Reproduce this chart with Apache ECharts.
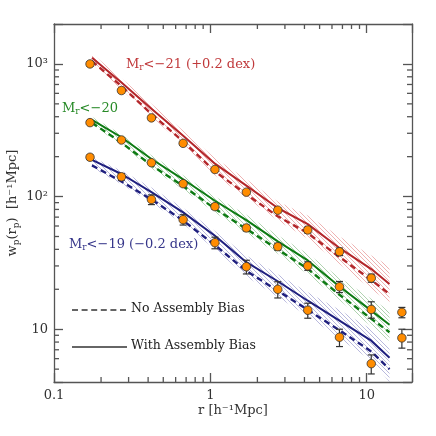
<!DOCTYPE html>
<html>
<head>
<meta charset="utf-8">
<script src="https://cdn.jsdelivr.net/npm/echarts@6/dist/echarts.min.js"></script>
<style>
  html, body { margin: 0; padding: 0; background: #fff; }
  #chart { width: 436px; height: 436px; }
</style>
</head>
<body>
<div id="chart"></div>
<script>
// measured w_p(r_p) points (offset samples already shifted by +/-0.2 dex)
const rp = [0.17, 0.27, 0.42, 0.67, 1.07, 1.7, 2.7, 4.2, 6.7, 10.7, 16.8];
const obs21 = [1000, 630, 392, 252, 160, 108, 79, 56, 38.4, 24.3, 13.4];
const err21 = [40, 25, 14, 9, 6, 4, 3, 3, 2.5, 1.7, 1.2];
const obs20 = [361, 267, 180, 125, 84, 58, 41.9, 30, 20.9, 14.1, 8.6];
const err20 = [10, 8, 6, 5, 4, 3, 2.5, 2.2, 2, 2, 1.4];
const obs19 = [198, 141, 95, 67, 44.9, 29.6, 20, 13.9, 8.7, 5.5];
const err19 = [8, 8, 8, 6, 4.5, 3.5, 2.8, 1.8, 1.3, 0.9];

// model curves
const rModel = [0.175, 0.27, 0.42, 0.67, 1.07, 1.7, 2.7, 4.2, 6.7, 10.7, 14];
const with21 = [1115, 724, 460, 288, 177, 121, 82, 62, 41, 28.4, 21.9];
const no21 = [1050, 680, 420, 260, 155, 104, 71, 53, 35, 23.5, 18.4];
const lo21 = [1000, 640, 400, 245, 145, 98, 66, 48, 31, 20, 16];
const hi21 = [1200, 780, 500, 315, 195, 135, 92, 72, 50, 36, 30];

const with20 = [378, 280, 192, 135, 93, 66.5, 46, 33, 21, 13.8, 10.8];
const no20 = [360, 255, 172, 120, 81, 57, 40, 28.5, 18.2, 12, 9.5];
const lo20 = [350, 245, 163, 113, 76, 53, 37, 26, 16.5, 10.5, 8.1];
const hi20 = [400, 295, 205, 145, 100, 73, 51, 37, 24.5, 17, 13.8];

const with19 = [189, 148, 108, 76, 50.7, 32, 23, 16.4, 11.6, 8.2, 6.1];
const no19 = [172, 130, 95, 66, 43, 27.5, 19.5, 14, 9.8, 6.8, 5.0];
const lo19 = [165, 124, 90, 62, 40, 25, 17.5, 12.5, 8.5, 5.8, 4.0];
const hi19 = [198, 157, 117, 82, 55, 36, 26, 19, 14, 10, 7.3];

const xMinorTicks = [0.2, 0.3, 0.4, 0.5, 0.6, 0.7, 0.8, 0.9, 2, 3, 4, 5, 6, 7, 8, 9];
const yMinorTicks = [5, 6, 7, 8, 9, 20, 30, 40, 50, 60, 70, 80, 90, 200, 300, 400, 500, 600, 700, 800, 900];

const X_MIN = 0.1, X_MAX = 19.5, Y_MIN = 4, Y_MAX = 2000;
const FONT = '"DejaVu Serif", serif';
const RED = '#b3262a', GREEN = '#0c7a12', BLUE = '#1f1f7e';
const AXIS = '#555';

const zip = (a, b) => a.map((v, i) => [v, b[i]]);

// fine 45 degree hatching (down-right) used for the model bands
function hatch(color) {
  const c = document.createElement('canvas');
  c.width = 4; c.height = 4;
  const g = c.getContext('2d');
  g.strokeStyle = color;
  g.lineWidth = 0.7;
  g.beginPath();
  for (let k = -1; k <= 1; k++) {
    g.moveTo(-4 + 4 * k, -4); g.lineTo(8 + 4 * k, 8);
  }
  g.stroke();
  return { image: c, repeat: 'repeat' };
}

function band(lo, hi, color) {
  return {
    type: 'custom',
    z: 1,
    silent: true,
    data: rModel.map((x, i) => [x, lo[i], hi[i]]),
    renderItem: function (params, api) {
      if (params.dataIndex !== 0) return;
      const pts = [];
      rModel.forEach((x, i) => pts.push(api.coord([x, hi[i]])));
      for (let i = rModel.length - 1; i >= 0; i--) pts.push(api.coord([rModel[i], lo[i]]));
      return { type: 'polygon', shape: { points: pts }, style: { fill: hatch(color) } };
    }
  };
}

function curve(ys, color, dashed) {
  return {
    type: 'line', z: 3, symbol: 'none', silent: true,
    data: zip(rModel, ys),
    lineStyle: { color: color, width: dashed ? 2.4 : 2, type: dashed ? [6, 4] : 'solid' }
  };
}

function errorBars(ys, errs) {
  return {
    type: 'custom', z: 4, silent: true,
    data: ys.map((y, i) => [rp[i], y, errs[i]]),
    renderItem: function (params, api) {
      const x = api.value(0), y = api.value(1), e = api.value(2);
      const lo = api.coord([x, y - e]), hi = api.coord([x, y + e]);
      const st = { stroke: '#333', lineWidth: 1.2 };
      return {
        type: 'group', children: [
          { type: 'line', shape: { x1: lo[0], y1: lo[1], x2: hi[0], y2: hi[1] }, style: st },
          { type: 'line', shape: { x1: lo[0] - 3.5, y1: lo[1], x2: lo[0] + 3.5, y2: lo[1] }, style: st },
          { type: 'line', shape: { x1: hi[0] - 3.5, y1: hi[1], x2: hi[0] + 3.5, y2: hi[1] }, style: st }
        ]
      };
    }
  };
}

function points(ys) {
  return {
    type: 'scatter', z: 5, silent: true,
    data: zip(rp, ys),
    symbolSize: 8.5,
    itemStyle: { color: '#ff8c00', borderColor: '#333', borderWidth: 0.8, opacity: 1 }
  };
}

// minor log ticks on all four sides, drawn as thin rect symbols
function tickMarks(data, size, offset) {
  return {
    type: 'scatter', z: 6, silent: true, clip: false,
    data: data, symbol: 'rect', symbolSize: size, symbolOffset: offset,
    itemStyle: { color: AXIS, opacity: 1 }
  };
}

const axisCommon = {
  type: 'log', logBase: 10,
  axisLine: { show: true, onZero: false, lineStyle: { color: AXIS, width: 1.3 } },
  axisTick: { show: true, inside: true, length: 9, lineStyle: { color: AXIS, width: 1.3 } },
  splitLine: { show: false },
  minorTick: { show: false }
};

const xLab = v => (Math.abs(v - 0.1) < 1e-9 ? '0.1' : Math.abs(v - 1) < 1e-9 ? '1' : Math.abs(v - 10) < 1e-9 ? '10' : '');
const yLab = v => (Math.abs(v - 10) < 1e-6 ? '10' : Math.abs(v - 100) < 1e-6 ? '10²' : Math.abs(v - 1000) < 1e-6 ? '10³' : '');

const labelStyle = { color: '#333', fontFamily: FONT, fontSize: 13 };
const subRich = {
  n: { fontFamily: FONT, fontSize: 13, lineHeight: 16 },
  s: { fontFamily: FONT, fontSize: 9, lineHeight: 9, verticalAlign: 'bottom' }
};

function annotation(left, top, text, color) {
  const rich = {
    n: { fontFamily: FONT, fontSize: 13, lineHeight: 16, fill: color },
    s: { fontFamily: FONT, fontSize: 9, lineHeight: 9, verticalAlign: 'bottom', fill: color }
  };
  return { type: 'text', left: left, top: top, z: 10, style: { text: text, rich: rich, fill: color } };
}

const option = {
  animation: false,
  backgroundColor: '#fff',
  grid: { left: 54, top: 24, right: 24, bottom: 54, containLabel: false, outerBoundsMode: 'none' },
  xAxis: [
    Object.assign({}, axisCommon, {
      min: X_MIN, max: X_MAX, position: 'bottom',
      name: 'r [h⁻¹Mpc]', nameLocation: 'middle', nameGap: 22, nameMoveOverlap: false,
      nameTextStyle: { color: '#333', fontFamily: FONT, fontSize: 13 },
      axisLabel: Object.assign({ margin: 7, formatter: xLab, showMinLabel: true, showMaxLabel: true }, labelStyle)
    }),
    Object.assign({}, axisCommon, { min: X_MIN, max: X_MAX, position: 'top', axisLabel: { show: false } })
  ],
  yAxis: [
    Object.assign({}, axisCommon, {
      min: Y_MIN, max: Y_MAX, position: 'left',
      name: '{n|w}{s|p}{n|(r}{s|p}{n|)  [h⁻¹Mpc]}', nameLocation: 'middle', nameGap: 33, nameRotate: 90,
      nameMoveOverlap: false,
      nameTextStyle: { color: '#333', fontFamily: FONT, fontSize: 13, rich: subRich },
      axisLabel: Object.assign({ margin: 6, formatter: yLab }, labelStyle)
    }),
    Object.assign({}, axisCommon, { min: Y_MIN, max: Y_MAX, position: 'right', axisLabel: { show: false } })
  ],
  graphic: [
    annotation(126, 58, '{n|M}{s|r}{n|<−21 (+0.2 dex)}', '#c0393b'),
    annotation(62, 102, '{n|M}{s|r}{n|<−20}', '#278a27'),
    annotation(69, 238, '{n|M}{s|r}{n|<−19 (−0.2 dex)}', '#36368a'),
    { type: 'line', z: 10, shape: { x1: 72, y1: 310, x2: 127, y2: 310 }, style: { stroke: '#333', lineWidth: 1.3, lineDash: [6, 3.6] } },
    { type: 'line', z: 10, shape: { x1: 72, y1: 347, x2: 127, y2: 347 }, style: { stroke: '#333', lineWidth: 1.3 } },
    { type: 'text', z: 10, left: 131, top: 302, style: { text: 'No Assembly Bias', fill: '#222', font: '12.5px ' + FONT } },
    { type: 'text', z: 10, left: 131, top: 339, style: { text: 'With Assembly Bias', fill: '#222', font: '12.5px ' + FONT } }
  ],
  series: [
    band(lo21, hi21, 'rgba(215,70,70,0.6)'),
    band(lo20, hi20, 'rgba(50,140,50,0.55)'),
    band(lo19, hi19, 'rgba(70,70,165,0.55)'),
    curve(no21, RED, true), curve(with21, RED, false),
    curve(no20, GREEN, true), curve(with20, GREEN, false),
    curve(no19, BLUE, true), curve(with19, BLUE, false),
    errorBars(obs21, err21), errorBars(obs20, err20), errorBars(obs19, err19),
    points(obs21), points(obs20), points(obs19),
    tickMarks(xMinorTicks.map(v => [v, Y_MIN]), [1.3, 5], [0, -2.5]),
    tickMarks(xMinorTicks.map(v => [v, Y_MAX]), [1.3, 5], [0, 2.5]),
    tickMarks(yMinorTicks.map(v => [X_MIN, v]), [5, 1.3], [2.5, 0]),
    tickMarks(yMinorTicks.map(v => [X_MAX, v]), [5, 1.3], [-2.5, 0])
  ]
};

const chart = echarts.init(document.getElementById('chart'));
chart.setOption(option);
</script>
</body>
</html>
